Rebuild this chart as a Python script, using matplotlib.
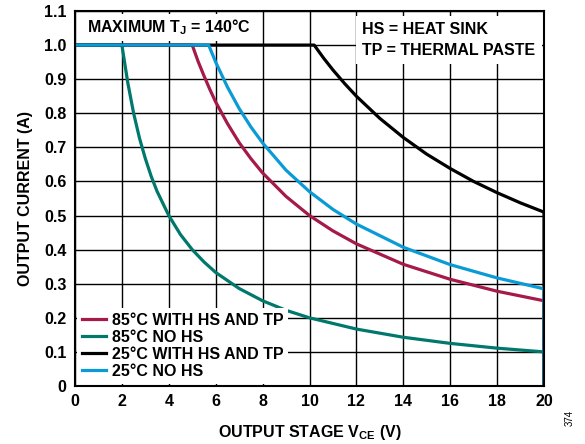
import matplotlib
matplotlib.use("Agg")
import matplotlib.pyplot as plt

plt.rcParams['font.family'] = ['Liberation Sans', 'DejaVu Sans']
plt.rcParams['font.weight'] = 'bold'
plt.rcParams['axes.labelweight'] = 'bold'
plt.rcParams['mathtext.default'] = 'regular'

# values (V, A)
v_85_hs = [0, 5.0, 5.25, 5.5, 5.75, 6, 6.5, 7, 7.5, 8, 9, 10, 11, 12, 14, 16, 18, 20, 20]
i_85_hs = [1.0, 1.0, 0.952, 0.91, 0.87, 0.833, 0.77, 0.714, 0.667, 0.625, 0.556, 0.5, 0.455,
           0.417, 0.357, 0.313, 0.278, 0.25, 0]

v_85_nohs = [0, 2.0, 2.25, 2.5, 2.75, 3, 3.25, 3.5, 4, 4.5, 5, 5.5, 6, 7, 8, 9, 10, 12, 14, 16, 18, 20, 20]
i_85_nohs = [1.0, 1.0, 0.89, 0.8, 0.727, 0.667, 0.615, 0.571, 0.5, 0.444, 0.4, 0.364, 0.333, 0.286,
             0.25, 0.222, 0.2, 0.167, 0.143, 0.125, 0.111, 0.1, 0]

v_25_hs = [0, 10.2, 10.6, 11, 11.5, 12, 13, 14, 15, 16, 17, 18, 19, 20, 20]
i_25_hs = [1.0, 1.0, 0.962, 0.927, 0.887, 0.85, 0.785, 0.729, 0.68, 0.638, 0.6, 0.567, 0.537, 0.51, 0]

v_25_nohs = [0, 5.7, 6, 6.5, 7, 7.5, 8, 9, 10, 11, 12, 14, 16, 18, 20, 20]
i_25_nohs = [1.0, 1.0, 0.95, 0.877, 0.814, 0.76, 0.713, 0.633, 0.57, 0.518, 0.475, 0.407, 0.356,
             0.317, 0.285, 0]

labels = ["85°C WITH HS AND TP", "85°C NO HS", "25°C WITH HS AND TP", "25°C NO HS"]
colors = ["#A6194B", "#00786C", "#000000", "#0A9BD6"]

fig = plt.figure(figsize=(5.85, 4.44), dpi=100)
ax = fig.add_axes([75/585, 1 - 386/444, (544-75)/585, (386-11)/444])

series = [(v_85_hs, i_85_hs), (v_85_nohs, i_85_nohs), (v_25_hs, i_25_hs), (v_25_nohs, i_25_nohs)]
for (v, i), lab, c in zip(series, labels, colors):
    ax.plot(v, i, color=c, lw=2.3, label=lab, solid_joinstyle='round')

ax.set_xlim(0, 20)
ax.set_ylim(0, 1.1)
ax.set_xticks(range(0, 21, 2))
ax.set_yticks([k/10 for k in range(0, 12)])
ax.set_yticklabels(["0"] + ["%.1f" % (k/10) for k in range(1, 12)])
ax.grid(True, color='black', lw=1.0)
ax.set_axisbelow(True)
ax.tick_params(length=0, labelsize=11.5, pad=6)
for sp in ax.spines.values():
    sp.set_linewidth(1.5)

ax.set_xlabel(r"OUTPUT STAGE V$_\mathregular{CE}$ (V)", fontsize=11.5, labelpad=10)
ax.set_ylabel("OUTPUT CURRENT (A)", fontsize=11.5, labelpad=8)

ax.text(0.5, 1.052, r"MAXIMUM T$_\mathregular{J}$ = 140°C", fontsize=11.5, va='center', ha='left',
        bbox=dict(facecolor='white', edgecolor='none', pad=2.5))
ax.text(12.25, 1.015, "HS = HEAT SINK\nTP = THERMAL PASTE", fontsize=11.5, va='center', ha='left',
        linespacing=1.45, bbox=dict(facecolor='white', edgecolor='none', pad=4.5))

leg = ax.legend(loc='lower left', fontsize=11.5, frameon=True, fancybox=False, handlelength=1.5,
                handletextpad=0.35, labelspacing=0.12, borderaxespad=0.15, borderpad=0.3)
leg.get_frame().set_facecolor('white')
leg.get_frame().set_edgecolor('none')
leg.get_frame().set_alpha(1)

fig.text(570/585, 1 - 418/444, "374", rotation=90, fontsize=7, fontweight='normal', ha='center', va='center')

plt.savefig("out.png", dpi=100)
